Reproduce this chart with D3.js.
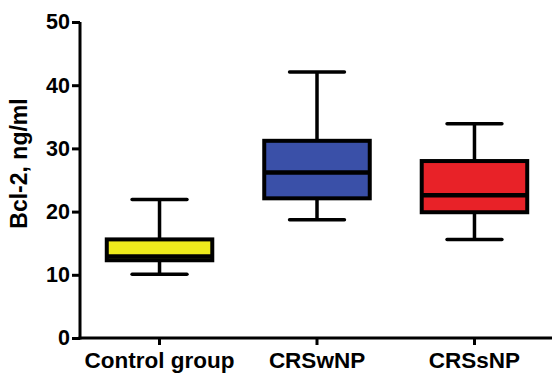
<!DOCTYPE html>
<html><head><meta charset="utf-8">
<script src="https://cdn.jsdelivr.net/npm/d3@7"></script>
<style>body{margin:0;background:#fff}svg{display:block}</style>
</head><body>
<svg id="c" width="552" height="375"></svg>
<script>
const categories = ["Control group", "CRSwNP", "CRSsNP"];
const whiskerLow  = [10.1, 18.7, 15.6];
const q1Values    = [12.3, 22.1, 19.9];
const medians     = [12.9, 26.2, 22.6];
const q3Values    = [15.6, 31.2, 28.0];
const whiskerHigh = [21.9, 42.1, 33.9];
const colors      = ["#eeea1c", "#3a50a8", "#e82228"];
const yTicks      = [0, 10, 20, 30, 40, 50];
const yTitle      = "Bcl-2, ng/ml";

const svg = d3.select("#c");
const x0 = 80, x1 = 552, yTop = 22, yBot = 338;
const y = d3.scaleLinear().domain([0, 50]).range([yBot, yTop]);
const x = d3.scaleBand().domain(categories).range([x0, x1 + 2]).paddingInner(0.33).paddingOuter(0.17);

const font = "'Liberation Sans', Arial, sans-serif";

const data = categories.map((c, i) => ({c, lo: whiskerLow[i], q1: q1Values[i], med: medians[i], q3: q3Values[i], hi: whiskerHigh[i], col: colors[i]}));
const g = svg.append("g");
data.forEach(d => {
  const cx = x(d.c) + x.bandwidth() / 2;
  const bw = x.bandwidth();
  const cap = bw * 0.52;
  const gg = g.append("g").attr("stroke", "#000").attr("stroke-width", 3.5);
  gg.append("line").attr("x1", cx).attr("x2", cx).attr("y1", y(d.hi)).attr("y2", y(d.q3));
  gg.append("line").attr("x1", cx).attr("x2", cx).attr("y1", y(d.q1)).attr("y2", y(d.lo));
  gg.append("line").attr("x1", cx - cap/2).attr("x2", cx + cap/2).attr("y1", y(d.hi)).attr("y2", y(d.hi)).attr("stroke-linecap", "round");
  gg.append("line").attr("x1", cx - cap/2).attr("x2", cx + cap/2).attr("y1", y(d.lo)).attr("y2", y(d.lo)).attr("stroke-linecap", "round");
  gg.append("rect").attr("x", x(d.c)).attr("width", bw).attr("y", y(d.q3)).attr("height", y(d.q1) - y(d.q3)).attr("fill", d.col).attr("stroke-width", 4);
  gg.append("line").attr("x1", x(d.c)).attr("x2", x(d.c) + bw).attr("y1", y(d.med)).attr("y2", y(d.med)).attr("stroke-width", 4.5);
});

const ya = svg.append("g").attr("transform", `translate(${x0},0)`)
  .call(d3.axisLeft(y).tickValues(yTicks).tickSize(8).tickPadding(2).tickSizeOuter(0));
ya.select(".domain").attr("stroke", "#000").attr("stroke-width", 3).attr("d", `M0,${yTop}V${yBot+1.5}`);
ya.selectAll(".tick line").attr("stroke", "#000").attr("stroke-width", 3);
ya.selectAll(".tick text").attr("font-family", font).attr("font-weight", "bold").attr("font-size", 21.5).attr("fill", "#000");

const xa = svg.append("g").attr("transform", `translate(0,${yBot})`)
  .call(d3.axisBottom(x).tickSize(7).tickPadding(7).tickSizeOuter(0));
xa.select(".domain").attr("stroke", "#000").attr("stroke-width", 3).attr("d", `M${x0-1.5},0H${x1}`);
xa.selectAll(".tick line").attr("stroke", "#000").attr("stroke-width", 3);
xa.selectAll(".tick text").attr("font-family", font).attr("font-weight", "bold").attr("font-size", 22.5).attr("fill", "#000");

svg.append("text").attr("transform", `translate(27,163.5) rotate(-90)`)
  .attr("text-anchor", "middle").attr("font-family", font).attr("font-weight", "bold").attr("font-size", 23)
  .text(yTitle);
</script>
</body></html>
